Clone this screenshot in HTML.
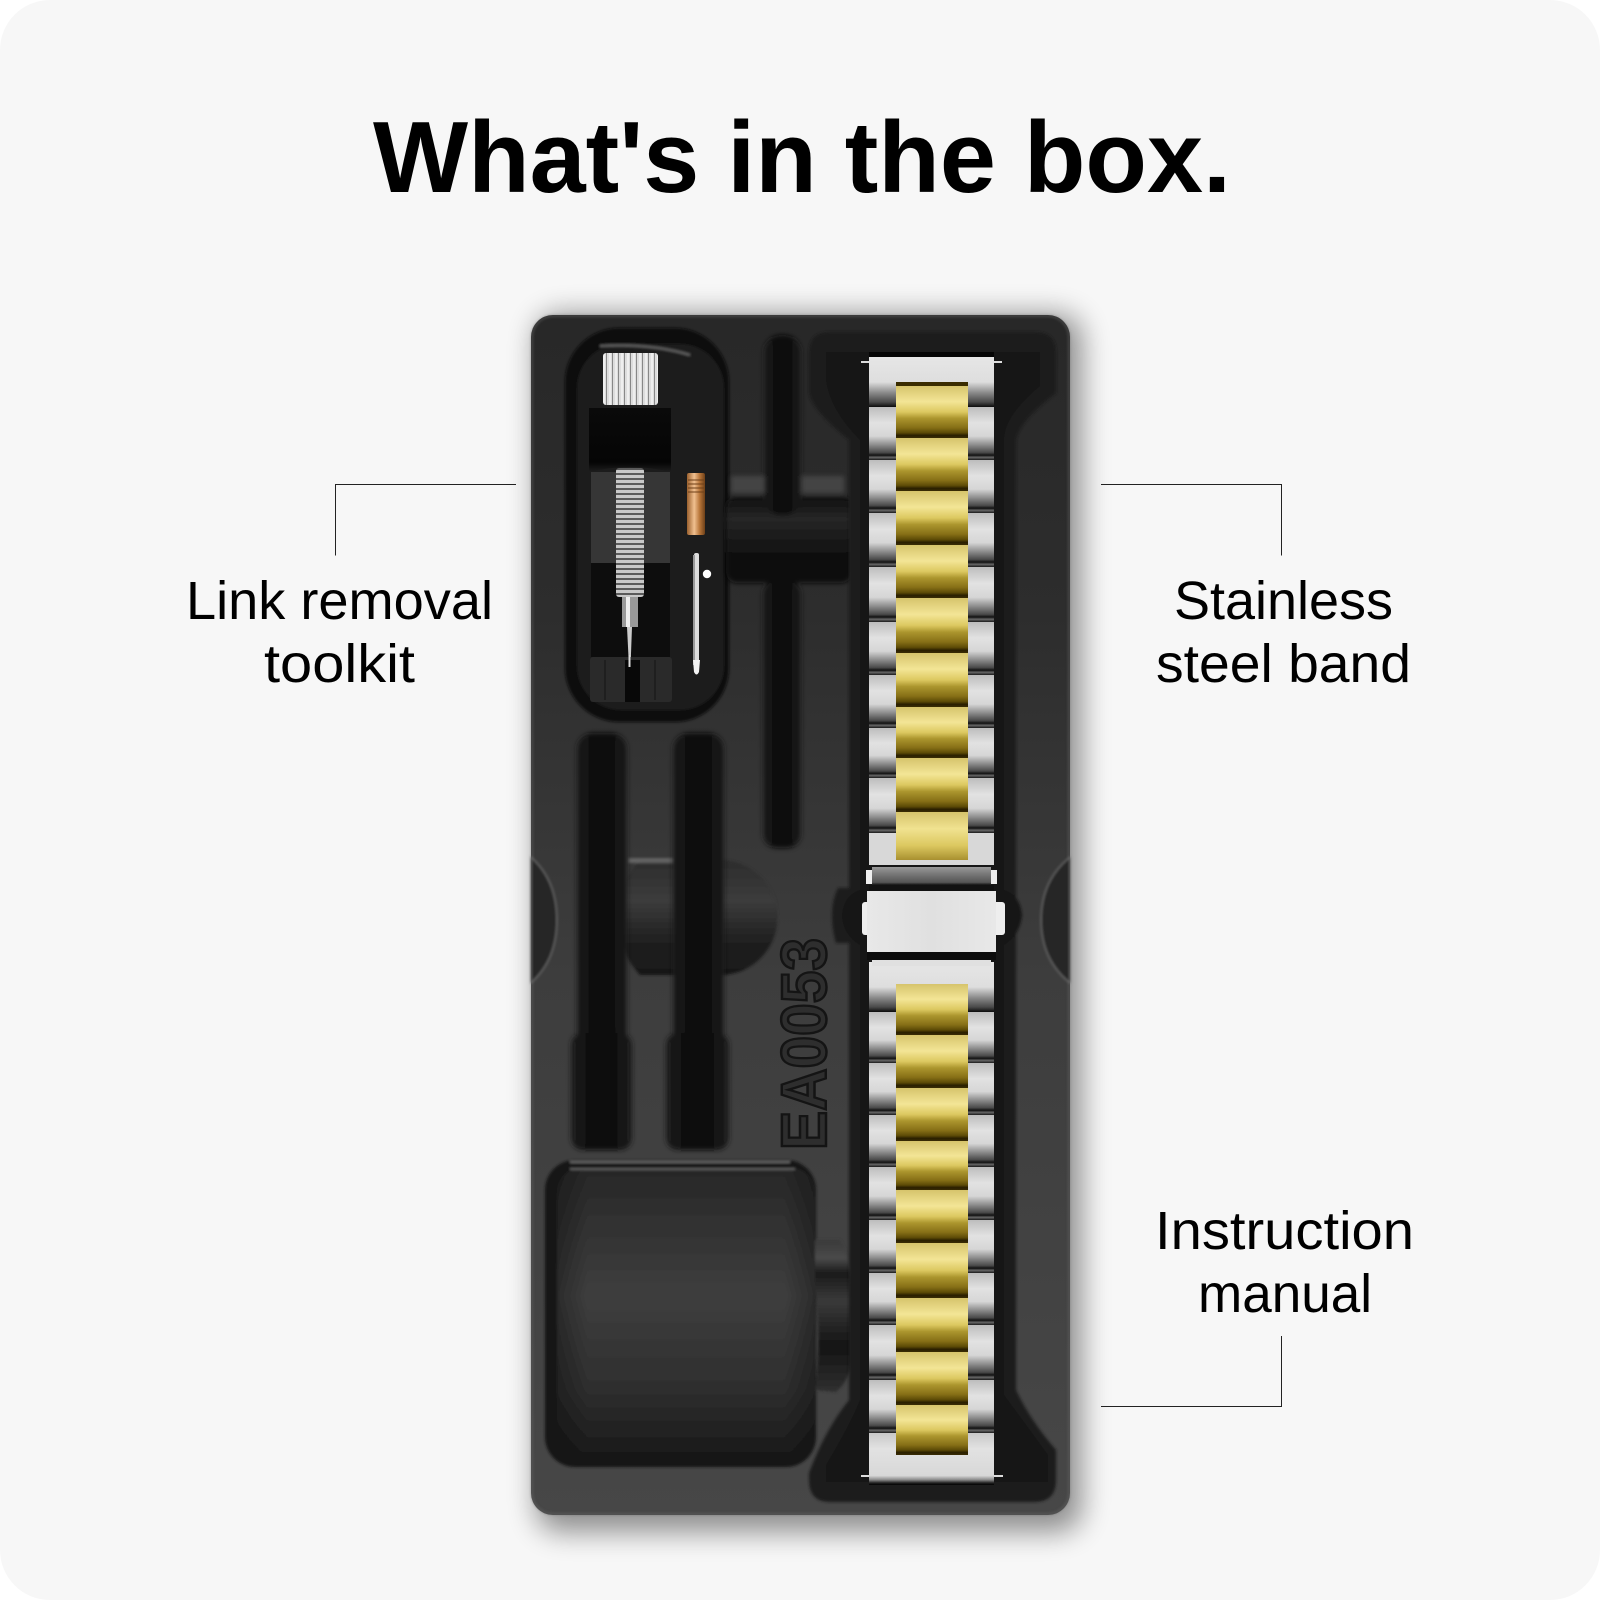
<!DOCTYPE html>
<html><head><meta charset="utf-8"><title>What's in the box.</title>
<style>html,body{margin:0;padding:0;background:#fff}svg{display:block}text{font-family:"Liberation Sans",sans-serif}</style></head>
<body>
<svg width="1600" height="1600" viewBox="0 0 1600 1600" xmlns="http://www.w3.org/2000/svg">
<defs>
<linearGradient id="tray" x1="0" y1="0" x2="0" y2="1"><stop offset="0" stop-color="#282828"/><stop offset=".25" stop-color="#2d2d2d"/><stop offset=".55" stop-color="#3d3d3d"/><stop offset="1" stop-color="#474747"/></linearGradient>
<linearGradient id="silver" x1="0" y1="0" x2="0" y2="1"><stop offset="0" stop-color="#bdbdbd"/><stop offset=".3" stop-color="#e2e2e2"/><stop offset=".55" stop-color="#d6d6d6"/><stop offset=".72" stop-color="#8a8a8a"/><stop offset=".86" stop-color="#4a4a4a"/><stop offset=".91" stop-color="#111"/><stop offset=".95" stop-color="#666"/><stop offset="1" stop-color="#1a1a1a"/></linearGradient>
<linearGradient id="silverTop" x1="0" y1="0" x2="0" y2="1"><stop offset="0" stop-color="#e6e6e6"/><stop offset=".5" stop-color="#dedede"/><stop offset=".72" stop-color="#888"/><stop offset=".9" stop-color="#4a4a4a"/><stop offset="1" stop-color="#0c0c0c"/></linearGradient>
<linearGradient id="silverEnd" x1="0" y1="0" x2="0" y2="1"><stop offset="0" stop-color="#c8c8c8"/><stop offset=".3" stop-color="#e2e2e2"/><stop offset=".82" stop-color="#d8d8d8"/><stop offset=".9" stop-color="#8a8a8a"/><stop offset=".96" stop-color="#222"/><stop offset="1" stop-color="#000"/></linearGradient>
<linearGradient id="gold" x1="0" y1="0" x2="0" y2="1"><stop offset="0" stop-color="#d6c46c"/><stop offset=".3" stop-color="#f3e596"/><stop offset=".5" stop-color="#dcc860"/><stop offset=".62" stop-color="#ac962e"/><stop offset=".8" stop-color="#866f16"/><stop offset=".9" stop-color="#5c4a06"/><stop offset=".95" stop-color="#2a1f00"/><stop offset="1" stop-color="#3a2c04"/></linearGradient>
<linearGradient id="goldLast" x1="0" y1="0" x2="0" y2="1"><stop offset="0" stop-color="#d6c46c"/><stop offset=".35" stop-color="#f0e290"/><stop offset=".7" stop-color="#dcc860"/><stop offset="1" stop-color="#a89030"/></linearGradient>
<linearGradient id="clasp" x1="0" y1="0" x2="1" y2="0"><stop offset="0" stop-color="#e8e8e8"/><stop offset=".5" stop-color="#e0e0e0"/><stop offset="1" stop-color="#e8e8e8"/></linearGradient>
<linearGradient id="conn" x1="0" y1="0" x2="0" y2="1"><stop offset="0" stop-color="#999"/><stop offset=".4" stop-color="#777"/><stop offset=".85" stop-color="#555"/><stop offset="1" stop-color="#111"/></linearGradient>
<linearGradient id="post" x1="0" y1="0" x2="1" y2="0"><stop offset="0" stop-color="#1e1e1e"/><stop offset=".3" stop-color="#0e0e0e"/><stop offset=".5" stop-color="#0a0a0a"/><stop offset=".7" stop-color="#0e0e0e"/><stop offset="1" stop-color="#1e1e1e"/></linearGradient>
<linearGradient id="cross" x1="0" y1="0" x2="0" y2="1"><stop offset="0" stop-color="#2c2c2c"/><stop offset=".35" stop-color="#3c3c3c"/><stop offset=".7" stop-color="#202020"/><stop offset="1" stop-color="#181818"/></linearGradient>
<linearGradient id="cross2" x1="0" y1="0" x2="0" y2="1"><stop offset="0" stop-color="#0e0e0e"/><stop offset=".25" stop-color="#262626"/><stop offset=".65" stop-color="#111"/><stop offset="1" stop-color="#0e0e0e"/></linearGradient>
<linearGradient id="manual" x1="0" y1="0" x2="0" y2="1"><stop offset="0" stop-color="#272727"/><stop offset=".45" stop-color="#3e3e3e"/><stop offset=".78" stop-color="#2e2e2e"/><stop offset="1" stop-color="#1b1b1b"/></linearGradient>
<linearGradient id="manualEdge" x1="0" y1="0" x2="1" y2="0"><stop offset="0" stop-color="#000" stop-opacity=".3"/><stop offset=".12" stop-color="#000" stop-opacity="0"/><stop offset=".88" stop-color="#000" stop-opacity="0"/><stop offset="1" stop-color="#000" stop-opacity=".3"/></linearGradient>
<linearGradient id="bump" x1="0" y1="0" x2="0" y2="1"><stop offset="0" stop-color="#3a3a3a"/><stop offset=".12" stop-color="#4a4a4a"/><stop offset=".22" stop-color="#1a1a1a"/><stop offset=".4" stop-color="#3a3a3a"/><stop offset=".7" stop-color="#141414"/><stop offset="1" stop-color="#303030"/></linearGradient>
<linearGradient id="collar" x1="0" y1="0" x2="0" y2="1"><stop offset="0" stop-color="#0a0a0a"/><stop offset=".85" stop-color="#050505"/><stop offset="1" stop-color="#1e1e1e"/></linearGradient>
<linearGradient id="copper" x1="0" y1="0" x2="1" y2="0"><stop offset="0" stop-color="#9a5f2c"/><stop offset=".4" stop-color="#f0c090"/><stop offset=".7" stop-color="#b8763a"/><stop offset="1" stop-color="#6e4018"/></linearGradient>
<pattern id="knurl" width="6" height="4" patternUnits="userSpaceOnUse"><rect width="6" height="4" fill="#ddd"/><rect width="1" height="4" fill="#888"/><rect x="3.5" width="1" height="4" fill="#fff"/></pattern>
<pattern id="spring" width="4" height="5" patternUnits="userSpaceOnUse"><rect width="4" height="5" fill="#c8c8c8"/><rect y="3" width="4" height="2" fill="#5a5a5a"/></pattern>
<filter id="shadow" filterUnits="userSpaceOnUse" x="400" y="200" width="800" height="1400"><feGaussianBlur stdDeviation="14"/></filter>
<filter id="b1" filterUnits="userSpaceOnUse" x="400" y="200" width="800" height="1400"><feGaussianBlur stdDeviation="1.2"/></filter>
<filter id="b2" filterUnits="userSpaceOnUse" x="400" y="200" width="800" height="1400"><feGaussianBlur stdDeviation="2.5"/></filter>
</defs>

<rect x="0" y="0" width="1600" height="1600" rx="50" fill="#f7f7f7"/>

<text x="373" y="192" font-size="101" font-weight="700" fill="#000" textLength="858" lengthAdjust="spacingAndGlyphs">What's in the box.</text>

<g fill="#000" font-size="54">
<text x="186" y="619" textLength="307" lengthAdjust="spacingAndGlyphs">Link removal</text>
<text x="264" y="682" textLength="151" lengthAdjust="spacingAndGlyphs">toolkit</text>
<text x="1174" y="619" textLength="219" lengthAdjust="spacingAndGlyphs">Stainless</text>
<text x="1156" y="682" textLength="255" lengthAdjust="spacingAndGlyphs">steel band</text>
<text x="1155" y="1249" textLength="259" lengthAdjust="spacingAndGlyphs">Instruction</text>
<text x="1198" y="1312" textLength="174" lengthAdjust="spacingAndGlyphs">manual</text>
</g>

<g fill="none" stroke="#222" stroke-width="1">
<path d="M335.500 555.500V484.500H516"/>
<path d="M1281.500 555.500V484.500H1101"/>
<path d="M1281.500 1336V1406.500H1101"/>
</g>

<!-- tray shadow -->
<rect x="536" y="314" width="546" height="1218" rx="24" fill="#000" opacity=".42" filter="url(#shadow)"/>

<!-- tray -->
<rect x="531" y="315" width="539" height="1200" rx="22" fill="url(#tray)"/>
<rect x="532" y="316" width="537" height="1198" rx="21" fill="none" stroke="#666" stroke-width="2" opacity=".55" filter="url(#b1)"/>

<!-- side notches -->
<path d="M531 857Q557 880 557 920Q557 960 531 983Z" fill="#262626" stroke="#777" stroke-width="1" filter="url(#b1)"/>
<path d="M1070 857Q1041 880 1041 920Q1041 960 1070 983Z" fill="#262626" stroke="#777" stroke-width="1" filter="url(#b1)"/>

<g filter="url(#b1)">
<!-- tool recess -->
<rect x="565" y="328" width="164" height="394" rx="54" fill="#101010"/>
<rect x="577" y="344" width="147" height="366" rx="44" fill="#1a1a1a"/>
<path d="M600 346Q650 343 690 355" fill="none" stroke="#666" stroke-width="2"/>
<!-- H cross -->
<path d="M640 860H720A57 57 0 0 1 720 975H640Q617 950 617 917Q617 885 640 860Z" fill="url(#cross)"/>
<rect x="628" y="858" width="46" height="5" fill="#777" opacity=".7"/>
<!-- manual recess -->
<rect x="545" y="1160" width="271" height="307" rx="30" fill="#191919"/>
<path d="M570 1162H790" stroke="#6a6a6a" stroke-width="2"/>
<rect x="557" y="1168" width="258" height="284" rx="24" fill="url(#manual)"/>
<rect x="557" y="1168" width="258" height="284" rx="24" fill="url(#manualEdge)"/>
<path d="M570 1169H795" stroke="#707070" stroke-width="1.500"/>
<!-- bump -->
<path d="M815 1240H840Q852 1260 852 1300V1360Q850 1380 836 1392L815 1390Q822 1340 815 1290Z" fill="url(#bump)"/>
</g>

<g filter="url(#b2)">
<!-- vertical groove + cross -->
<rect x="731" y="476" width="34" height="17" fill="#555" opacity=".6"/>
<rect x="802" y="476" width="42" height="17" fill="#555" opacity=".6"/>
<path d="M735 497H846Q852 497 852 510V570Q852 583 840 583H738Q726 583 726 570V510Q726 497 735 497Z" fill="url(#cross2)"/>
<rect x="764" y="335" width="37" height="180" rx="17" fill="url(#post)"/>
<rect x="763" y="580" width="38" height="268" rx="14" fill="url(#post)"/>
<!-- posts -->
<rect x="577" y="733" width="50" height="320" rx="16" fill="url(#post)"/>
<rect x="673" y="733" width="51" height="320" rx="16" fill="url(#post)"/>
<rect x="571" y="1033" width="61" height="117" rx="12" fill="url(#post)"/>
<rect x="666" y="1033" width="63" height="117" rx="12" fill="url(#post)"/>
</g>

<g filter="url(#b1)">
<!-- band recess -->
<path d="M830 332H1035Q1056 332 1056 352V393Q1020 420 1016 440V1390Q1030 1420 1056 1450V1480Q1056 1502 1034 1502H830Q809 1502 809 1480V1473Q825 1430 849 1400V943H836Q832 930 832 915Q832 900 838 888H849V440Q812 410 809 393V352Q809 332 830 332Z" fill="#1c1c1c"/>
<path d="M826 352H1040V386Q1004 416 1004 440V890Q1020 895 1022 915Q1020 935 1004 945V1395Q1030 1430 1048 1455V1482H826V1465Q850 1425 860 1400V945Q843 935 842 915Q844 895 860 890V440Q830 410 826 380Z" fill="#141414"/>
</g>

<!-- band base -->
<rect x="869" y="357" width="125" height="508" fill="#111"/>
<rect x="869" y="962" width="125" height="523" fill="#111"/>
<g fill="url(#silver)">
<rect x="869" y="407" width="125" height="53"/>
<rect x="869" y="460" width="125" height="53"/>
<rect x="869" y="513" width="125" height="54"/>
<rect x="869" y="567" width="125" height="55"/>
<rect x="869" y="622" width="125" height="53"/>
<rect x="869" y="675" width="125" height="53"/>
<rect x="869" y="728" width="125" height="50"/>
<rect x="869" y="778" width="125" height="55"/>
<rect x="869" y="1012" width="125" height="51"/>
<rect x="869" y="1063" width="125" height="52"/>
<rect x="869" y="1115" width="125" height="52"/>
<rect x="869" y="1167" width="125" height="53"/>
<rect x="869" y="1220" width="125" height="53"/>
<rect x="869" y="1273" width="125" height="52"/>
<rect x="869" y="1325" width="125" height="55"/>
<rect x="869" y="1380" width="125" height="53"/>
</g>
<rect x="869" y="357" width="125" height="50" fill="url(#silverTop)"/>
<rect x="869" y="962" width="125" height="50" fill="url(#silverTop)"/>
<rect x="869" y="833" width="125" height="32" fill="#d8d8d8"/>
<rect x="869" y="1433" width="125" height="52" fill="url(#silverEnd)"/>
<path d="M861 362H869M994 362H1002M861 1476H869M994 1476H1003" stroke="#ddd" stroke-width="2"/>
<rect x="869" y="352" width="125" height="5" fill="#050505"/>

<!-- gold -->
<rect x="896" y="382" width="72" height="6" fill="#3a2c00"/>
<g fill="url(#gold)">
<rect x="896" y="386" width="72" height="52"/>
<rect x="896" y="438" width="72" height="53"/>
<rect x="896" y="491" width="72" height="54"/>
<rect x="896" y="545" width="72" height="53"/>
<rect x="896" y="598" width="72" height="55"/>
<rect x="896" y="653" width="72" height="54"/>
<rect x="896" y="707" width="72" height="51"/>
<rect x="896" y="758" width="72" height="54"/>
<rect x="896" y="984" width="72" height="51"/>
<rect x="896" y="1035" width="72" height="53"/>
<rect x="896" y="1088" width="72" height="53"/>
<rect x="896" y="1141" width="72" height="49"/>
<rect x="896" y="1190" width="72" height="53"/>
<rect x="896" y="1243" width="72" height="55"/>
<rect x="896" y="1298" width="72" height="54"/>
<rect x="896" y="1352" width="72" height="53"/>
<rect x="896" y="1405" width="72" height="50"/>
</g>
<rect x="896" y="812" width="72" height="48" fill="url(#goldLast)"/>

<!-- clasp -->
<rect x="872" y="867" width="119" height="18" fill="url(#conn)"/>
<rect x="866" y="870" width="6" height="14" fill="#eee"/>
<rect x="991" y="870" width="6" height="14" fill="#eee"/>
<rect x="869" y="885" width="125" height="6" fill="#111"/>
<rect x="862" y="902" width="8" height="33" rx="3" fill="#eee"/>
<rect x="993" y="902" width="12" height="33" rx="3" fill="#eee"/>
<rect x="867" y="891" width="129" height="61" fill="url(#clasp)"/>
<rect x="867" y="952" width="129" height="8" fill="#0c0c0c"/>
<rect x="872" y="960" width="119" height="6" fill="#e0e0e0"/>

<!-- tool -->
<rect x="603" y="353" width="55" height="52" rx="3" fill="url(#knurl)"/>
<rect x="591" y="472" width="79" height="91" fill="#363636"/>
<rect x="591" y="563" width="79" height="94" fill="#0d0d0d"/>
<path d="M589 408H671V472Q630 462 589 472Z" fill="url(#collar)"/>
<rect x="616" y="468" width="28" height="129" rx="3" fill="url(#spring)"/>
<rect x="622" y="597" width="16" height="30" fill="#999"/>
<rect x="626" y="597" width="4" height="30" fill="#eee"/>
<path d="M627 627H632L630.500 667H629Z" fill="#ccc"/>
<rect x="590" y="657" width="82" height="45" rx="3" fill="#2a2a2a"/>
<rect x="625" y="660" width="15" height="42" fill="#080808"/>
<path d="M605 660V700M655 660V700" stroke="#141414" stroke-width="1"/>
<rect x="628.500" y="655" width="2" height="12" fill="#ddd"/>

<!-- copper pin -->
<rect x="687" y="473" width="18" height="62" rx="2" fill="url(#copper)"/>
<g stroke="#6e4018" stroke-width="1"><path d="M688 480H704M688 484H704M688 488H704M688 492H704"/></g>

<!-- spring bar -->
<rect x="694" y="553" width="5" height="118" rx="2" fill="#ddd"/>
<rect x="693" y="555" width="2" height="110" fill="#999"/>
<path d="M693 660H700L699 672Q696.500 677 694 672Z" fill="#f2f2f2"/>
<circle cx="707" cy="574" r="4.200" fill="#fff"/>

<!-- embossed text -->
<text transform="translate(826,1150) rotate(-90)" font-size="64" font-weight="700" fill="#2e2e2e" stroke="#141414" stroke-width="2.500" textLength="212" lengthAdjust="spacingAndGlyphs">EA0053</text>
</svg>
</body></html>
